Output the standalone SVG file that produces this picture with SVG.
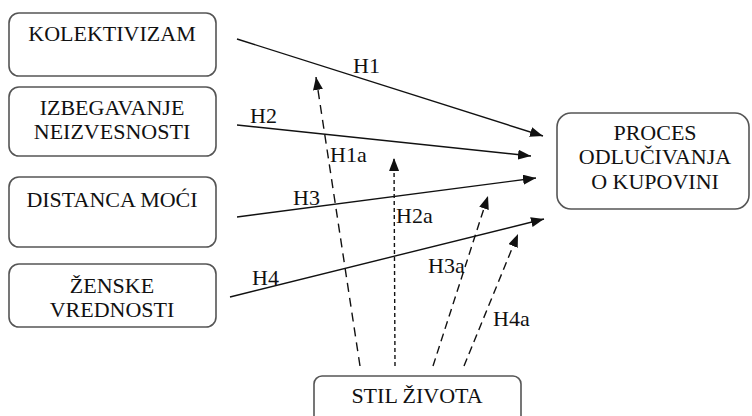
<svg xmlns="http://www.w3.org/2000/svg" width="752" height="416" viewBox="0 0 752 416">
  <style>
    .box { fill: #ffffff; stroke: #555555; stroke-width: 1.6; }
    .lbl { font-family: "Liberation Serif", "Times New Roman", serif; font-size: 22px; fill: #111111; }
    .ctr { text-anchor: middle; }
    .edge { stroke: #111111; stroke-width: 1.4; fill: none; marker-end: url(#head); }
    .dl { stroke-dasharray: 9 6; }
    .ds { stroke-dasharray: 4 3; }
    .dm { stroke-dasharray: 8 5; }
  </style>
  <defs>
    <marker id="head" viewBox="0 0 13 10" refX="13" refY="5" markerWidth="13" markerHeight="10" markerUnits="userSpaceOnUse" orient="auto">
      <path d="M0,0 L13,5 L0,10 z" fill="#111111"/>
    </marker>
  </defs>

  <rect width="752" height="416" fill="#ffffff"/>

  <g id="connectors">
    <line class="edge" x1="237" y1="39" x2="543" y2="136"/>
    <line class="edge" x1="237" y1="125" x2="531" y2="156"/>
    <line class="edge" x1="237" y1="217" x2="536" y2="178"/>
    <line class="edge" x1="230" y1="297" x2="544" y2="219"/>
    <line class="edge dl" x1="360" y1="366" x2="316" y2="77"/>
    <line class="edge ds" x1="395" y1="366" x2="394" y2="158"/>
    <line class="edge dm" x1="433" y1="366" x2="488" y2="196"/>
    <line class="edge dm" x1="464" y1="366" x2="518" y2="234"/>
    <text class="lbl" x="353" y="73">H1</text>
    <text class="lbl" x="250" y="123">H2</text>
    <text class="lbl" x="293" y="205">H3</text>
    <text class="lbl" x="252" y="285">H4</text>
    <text class="lbl" x="330" y="162">H1a</text>
    <text class="lbl" x="396" y="223">H2a</text>
    <text class="lbl" x="428" y="273">H3a</text>
    <text class="lbl" x="493" y="326">H4a</text>
  </g>

  <g id="kolektivizam">
    <rect class="box" x="9" y="13" width="207" height="63" rx="10"/>
    <text class="lbl ctr" x="112" y="41">KOLEKTIVIZAM</text>
  </g>
  <g id="izbegavanje">
    <rect class="box" x="9" y="87" width="207" height="69" rx="10"/>
    <text class="lbl ctr" x="112" y="115">IZBEGAVANJE</text>
    <text class="lbl ctr" x="112" y="139">NEIZVESNOSTI</text>
  </g>
  <g id="distanca">
    <rect class="box" x="9" y="177" width="207" height="70" rx="10"/>
    <text class="lbl ctr" x="112" y="207">DISTANCA MOĆI</text>
  </g>
  <g id="zenske">
    <rect class="box" x="9" y="264" width="207" height="63" rx="10"/>
    <text class="lbl ctr" x="112" y="293">ŽENSKE</text>
    <text class="lbl ctr" x="112" y="317">VREDNOSTI</text>
  </g>
  <g id="proces">
    <rect class="box" x="557" y="113" width="192" height="96" rx="14"/>
    <text class="lbl ctr" x="655" y="140">PROCES</text>
    <text class="lbl ctr" x="655" y="164">ODLUČIVANJA</text>
    <text class="lbl ctr" x="655" y="189">O KUPOVINI</text>
  </g>
  <g id="stil">
    <rect class="box" x="314" y="376" width="207" height="60" rx="8"/>
    <text class="lbl ctr" x="417" y="403">STIL ŽIVOTA</text>
  </g>
</svg>
